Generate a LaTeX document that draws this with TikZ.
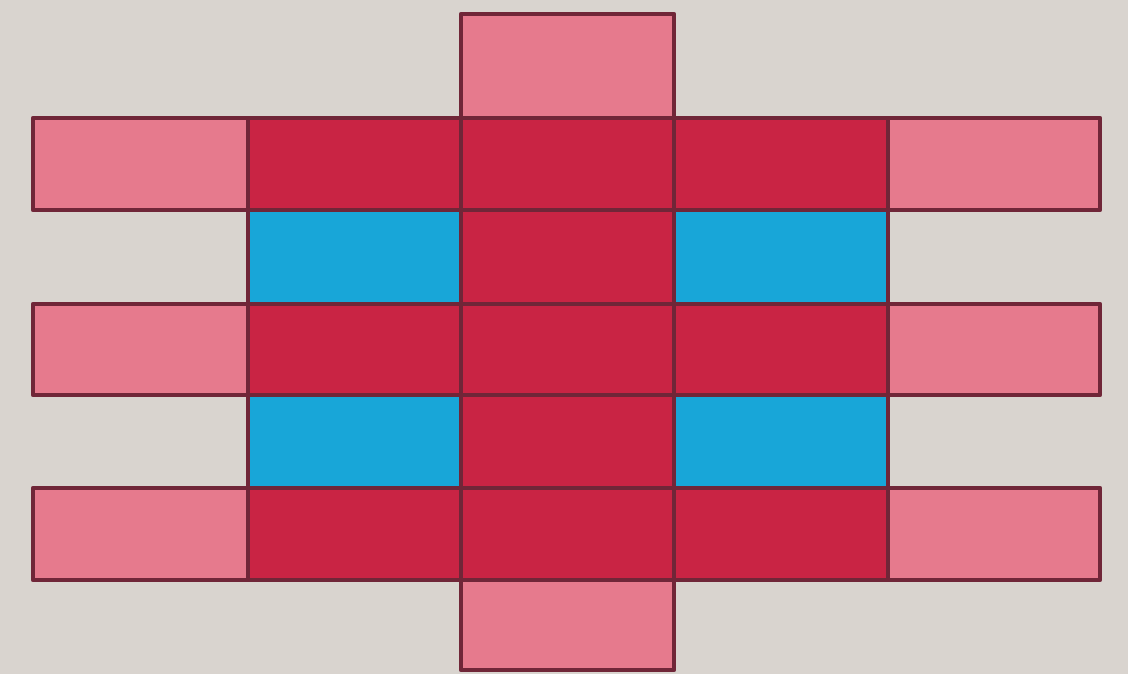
\documentclass[tikz,border=0pt]{standalone}
\begin{document}
\begin{tikzpicture}[x=0.02cm,y=-0.02cm,
  cell/.style={draw=edgec,line width=2.6pt,line join=round},
  lightcell/.style={cell,fill=pinkc},
  darkcell/.style={cell,fill=redc},
  bluecell/.style={cell,fill=bluec}]
\definecolor{bgc}{RGB}{217,212,207}
\definecolor{pinkc}{RGB}{230,122,141}
\definecolor{redc}{RGB}{201,36,68}
\definecolor{bluec}{RGB}{24,166,216}
\definecolor{edgec}{RGB}{112,38,56}
\fill[bgc] (0,0) rectangle (1128,674);
\useasboundingbox (0,0) rectangle (1128,674);
% center column ends
\draw[lightcell] (461,14) rectangle (674,118);
\draw[lightcell] (461,580) rectangle (674,670);
% bar ends
\foreach \ya/\yb in {118/210, 304/395, 488/580}{
  \draw[lightcell] (33,\ya) rectangle (248,\yb);
  \draw[lightcell] (888,\ya) rectangle (1100,\yb);
  \draw[darkcell] (248,\ya) rectangle (461,\yb);
  \draw[darkcell] (674,\ya) rectangle (888,\yb);
  \draw[darkcell] (461,\ya) rectangle (674,\yb);
}
\foreach \ya/\yb in {210/304, 395/488}{
  \draw[bluecell] (248,\ya) rectangle (461,\yb);
  \draw[bluecell] (674,\ya) rectangle (888,\yb);
  \draw[darkcell] (461,\ya) rectangle (674,\yb);
}
\end{tikzpicture}
\end{document}
